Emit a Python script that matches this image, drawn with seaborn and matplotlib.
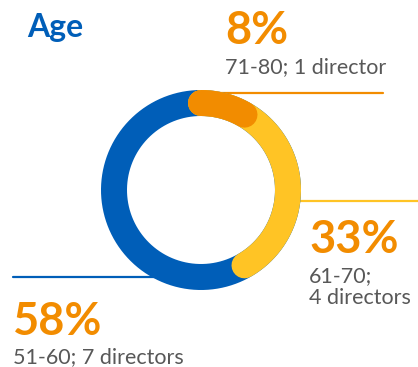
import numpy as np
import matplotlib
matplotlib.use("Agg")
import matplotlib.pyplot as plt
import seaborn as sns

# Board age profile
age_bands = ["71-80", "61-70", "51-60"]
directors = [1, 4, 7]
shares = ["8%", "33%", "58%"]
detail_lines = [["71-80; 1 director"], ["61-70;", "4 directors"], ["51-60; 7 directors"]]
seg_colors = ["#F28C00", "#FFC425", "#005EB8"]
title = "Age"

BLUE = "#005EB8"
ORANGE = "#F28C00"
GREY = "#585858"

sns.set_theme(style="white")
plt.rcParams["font.family"] = ["Lato", "DejaVu Sans"]

W, H, DPI = 418, 367, 100
fig = plt.figure(figsize=(W / DPI, H / DPI), dpi=DPI)
ax = fig.add_axes([0, 0, 1, 1])
ax.set_xlim(0, W)
ax.set_ylim(H, 0)
ax.axis("off")

# ring geometry (pixel space)
cx, cy = 201, 190
r_out = 100
r_mid = 87
ring_w = 26 * 72 / DPI

total = sum(directors)
cum = np.cumsum(directors) / total


def arc(frac_end, n=200):
    t = np.linspace(0, 2 * np.pi * frac_end, n)
    return cx + r_mid * np.sin(t), cy - r_mid * np.cos(t)


def rim_x(y, side):
    return cx + side * np.sqrt(r_out ** 2 - (y - cy) ** 2)


# leader lines from the outer rim of the ring
leaders = [
    (ORANGE, 93, 383, +1),
    ("#FFC425", 201, 418, +1),
    (BLUE, 277, 13, -1),
]
for col, y, x_end, side in leaders:
    sns.lineplot(x=[rim_x(y, side) - side * 4, x_end], y=[y, y], ax=ax,
                 color=col, linewidth=1.6, sort=False, estimator=None, zorder=1)

# last segment as the full ring, then earlier segments layered on top
xs, ys = arc(1.0, 400)
sns.lineplot(x=xs, y=ys, ax=ax, color=seg_colors[-1], linewidth=ring_w,
             sort=False, estimator=None, zorder=2)
for i in range(len(directors) - 2, -1, -1):
    xs, ys = arc(cum[i])
    sns.lineplot(x=xs, y=ys, ax=ax, color=seg_colors[i], linewidth=ring_w,
                 sort=False, estimator=None, solid_capstyle="round",
                 zorder=3 + (len(directors) - i))

# title
ax.text(27, 37, title, color=BLUE, fontsize=23, fontweight="bold", va="baseline")

# labels: (x, share baseline, first detail baseline)
label_pos = [(225, 44, 73), (309, 253, 282), (13, 335, 363)]
for (x, yb, yd), share, lines in zip(label_pos, shares, detail_lines):
    ax.text(x, yb, share, color=ORANGE, fontsize=32.5, fontweight="bold", va="baseline")
    for k, ln in enumerate(lines):
        ax.text(x, yd + 22 * k, ln, color=GREY, fontsize=15.5, va="baseline")

fig.savefig("out.png", dpi=DPI)
